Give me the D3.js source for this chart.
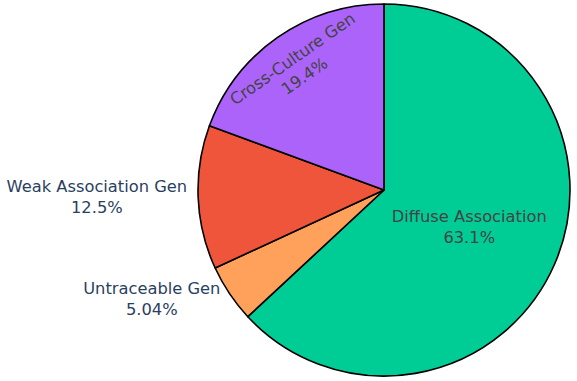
<!DOCTYPE html>
<html>
<head>
<meta charset="utf-8">
<script src="https://cdn.jsdelivr.net/npm/d3@7"></script>
<style>
  body { margin: 0; background: #fff; }
  text { font-family: "DejaVu Sans", Verdana, sans-serif; font-size: 16.3px; }
</style>
</head>
<body>
<div id="chart"></div>
<script>
const width = 577;
const height = 381;

// slice data, in drawing order (clockwise from 12 o'clock)
const labels = ['Diffuse Association', 'Untraceable Gen', 'Weak Association Gen', 'Cross-Culture Gen'];
const values = [63.1, 5.04, 12.5, 19.4];
const percentText = ['63.1%', '5.04%', '12.5%', '19.4%'];
const colors = ['#00cc96', '#ffa15a', '#ef553b', '#ab63fa'];
// where the label sits: inside (radial), inside (tangential) or outside
const labelMode = ['inside', 'outside', 'outside', 'tangential'];

const cx = 384;
const cy = 190;
const radius = 186;
const lineGap = 21;

const svg = d3
  .select('#chart')
  .append('svg')
  .attr('width', width)
  .attr('height', height);

const data = labels.map((d, i) => ({ label: d, value: values[i], pct: percentText[i], color: colors[i], mode: labelMode[i] }));

const pie = d3.pie().sort(null).value((d) => d.value);
const arcs = pie(data);

const arc = d3.arc().innerRadius(0).outerRadius(radius);
const tangentArc = d3.arc().innerRadius(radius * 0.6).outerRadius(radius);
const outerArc = d3.arc().innerRadius(radius + 11).outerRadius(radius + 11);

const g = svg.append('g').attr('transform', `translate(${cx},${cy})`);

// Slices
g.selectAll('path')
  .data(arcs)
  .enter()
  .append('path')
  .attr('d', arc)
  .attr('fill', (d) => d.data.color)
  .attr('stroke', '#000')
  .attr('stroke-width', 1.6)
  .attr('stroke-linejoin', 'round');

// Labels
arcs.forEach(function (a) {
  const d = a.data;
  const mid = (a.startAngle + a.endAngle) / 2;

  if (d.mode === 'inside') {
    const [x, y] = arc.centroid(a);
    const t = g.append('text').attr('text-anchor', 'middle').attr('fill', '#444');
    t.append('tspan').attr('x', x).attr('y', y - lineGap / 2 + 5).text(d.label);
    t.append('tspan').attr('x', x).attr('y', y + lineGap / 2 + 5).text(d.pct);
  } else if (d.mode === 'tangential') {
    const [x, y] = tangentArc.centroid(a);
    const angle = (mid * 180) / Math.PI - 360;
    const t = g
      .append('text')
      .attr('text-anchor', 'middle')
      .attr('fill', '#444')
      .attr('transform', `translate(${x},${y}) rotate(${angle})`);
    t.append('tspan').attr('x', 0).attr('y', -lineGap / 2 + 5).text(d.label);
    t.append('tspan').attr('x', 0).attr('y', lineGap / 2 + 5).text(d.pct);
  } else {
    const [x, y] = outerArc.centroid(a);
    const t = g.append('text').attr('text-anchor', 'middle').attr('fill', '#2a3f5f');
    const l1 = t.append('tspan').attr('y', y - lineGap / 2 + 5).text(d.label);
    const w = l1.node().getComputedTextLength();
    l1.attr('x', x - w / 2);
    t.append('tspan').attr('x', x - w / 2).attr('y', y + lineGap / 2 + 5).text(d.pct);
  }
});
</script>
</body>
</html>
